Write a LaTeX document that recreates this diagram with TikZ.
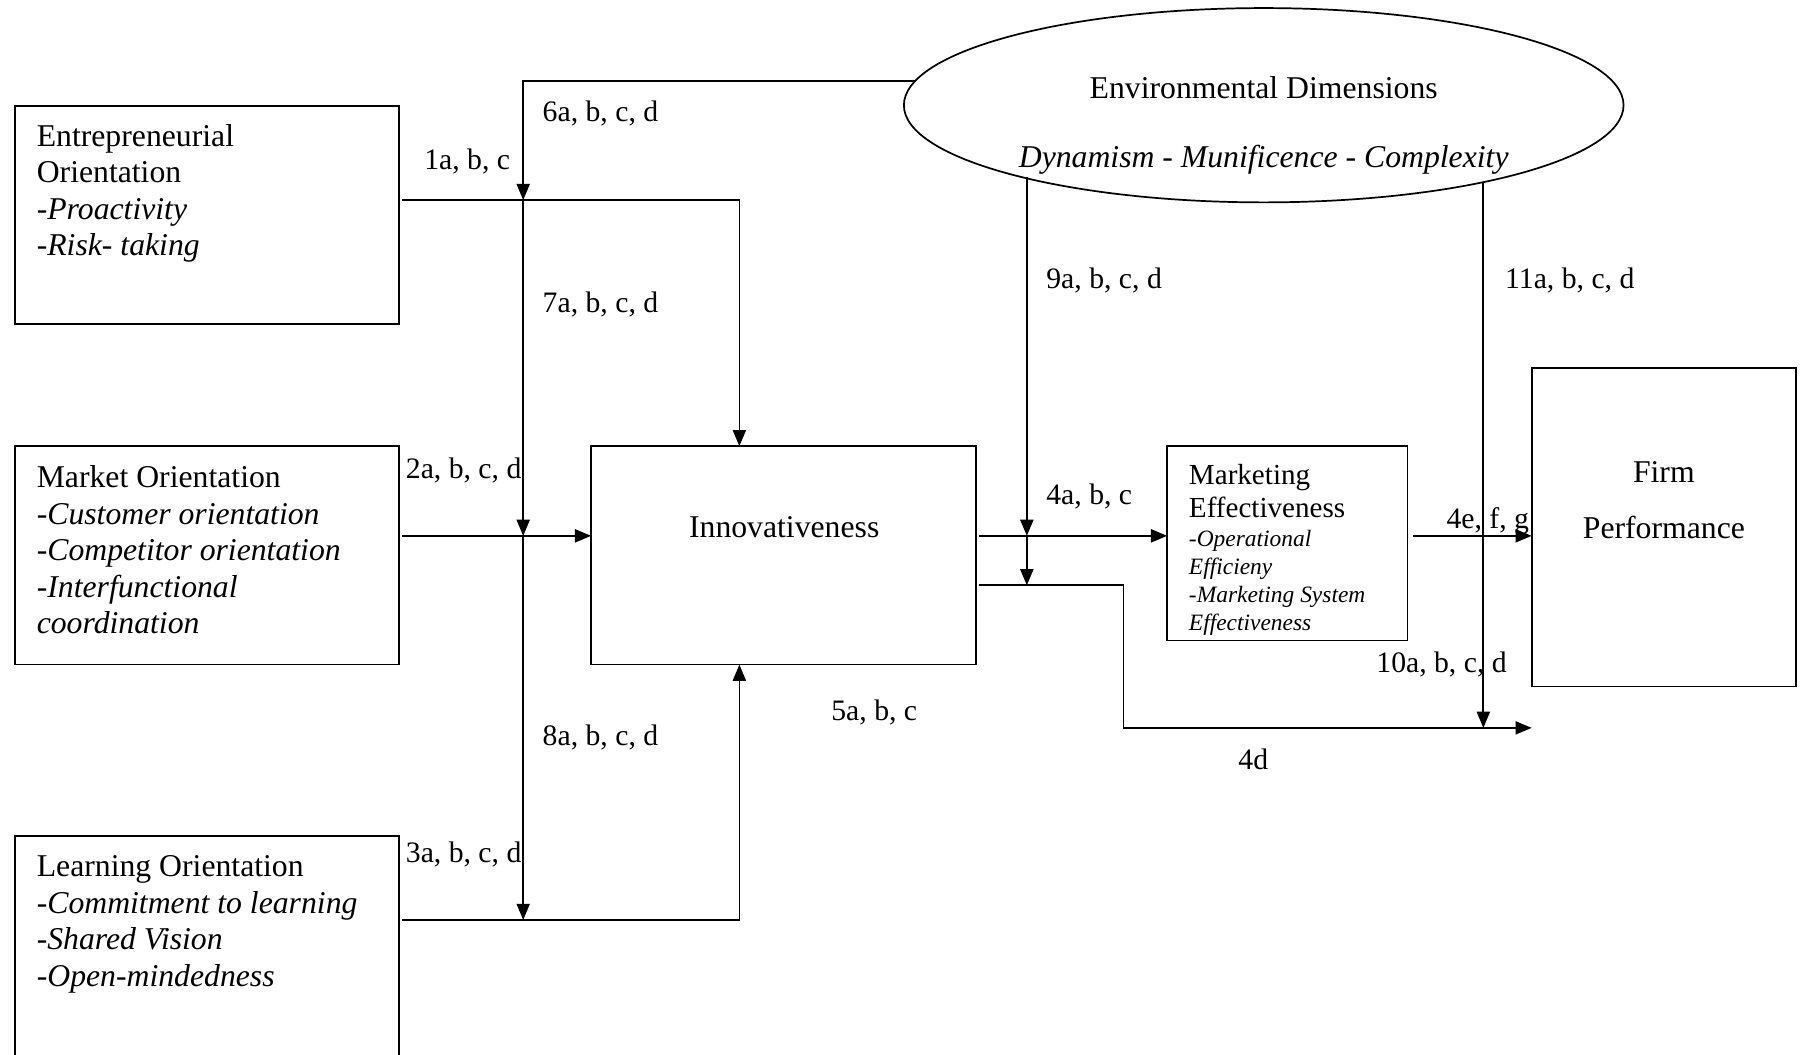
\documentclass[tikz,border=0pt]{standalone}
\usepackage{fontspec}
\setmainfont{Liberation Serif}
\usetikzlibrary{arrows.meta,shapes.geometric,calc}
\begin{document}
\begin{tikzpicture}[x=0.02cm,y=-0.02cm,
  line width=0.85pt,
  box/.style={draw,rectangle,inner sep=0pt,outer sep=0pt},
  txt/.style={inner sep=0pt,outer sep=0pt,align=left,anchor=north west,font=\fontsize{15.7}{18.1}\selectfont},
  ctxt/.style={inner sep=0pt,outer sep=0pt,anchor=base,font=\fontsize{15.7}{18.1}\selectfont},
  lab/.style={inner sep=0pt,outer sep=0pt,anchor=base west,font=\fontsize{14.7}{17}\selectfont},
  arr/.style={-{Triangle[length=8pt,width=6.5pt]}}]
\useasboundingbox (0,0) rectangle (1568,917);

% boxes
\node[box,minimum width=6.68cm,minimum height=3.8cm] (eo) at (180,187) {};
\node[box,minimum width=6.68cm,minimum height=3.8cm] (mo) at (180,483) {};
\node[box,minimum width=6.68cm,minimum height=4.0cm] (lo) at (180,827) {};
\node[box,minimum width=6.7cm,minimum height=3.8cm] (inn) at (681.5,483) {};
\node[box,minimum width=4.18cm,minimum height=3.38cm] (me) at (1119.5,472.5) {};
\node[box,minimum width=4.6cm,minimum height=5.54cm] (fp) at (1447,458.5) {};
\node[draw,ellipse,inner sep=0pt,outer sep=0pt,minimum width=12.52cm,minimum height=3.38cm] (env) at (1099,91.5) {};

% box texts
\node[txt] (eot) at (32,108) {Entrepreneurial\\Orientation\\-\textit{Proactivity}\\-\textit{Risk- taking}};
\node[txt] (mot) at (32,405) {Market Orientation\\-\textit{Customer orientation}\\-\textit{Competitor orientation}\\-\textit{Interfunctional}\\\textit{coordination}};
\node[txt] (lot) at (32,744) {Learning Orientation\\-\textit{Commitment to learning}\\-\textit{Shared Vision}\\-\textit{Open-mindedness}};
\node[ctxt] (innt) at (682,467) {Innovativeness};
\node[txt,font=\fontsize{14.4}{16.4}\selectfont] (met) at (1034,404) {Marketing\\Effectiveness};
\node[txt,font=\fontsize{11.6}{13.9}\selectfont] (mei) at (1034,461) {\textit{-Operational}\\\textit{Efficieny}\\\textit{-Marketing System}\\\textit{Effectiveness}};
\node[ctxt] (fpt1) at (1447,420) {Firm};
\node[ctxt] (fpt2) at (1447,468) {Performance};
\node[ctxt] (envt1) at (1099,86) {Environmental Dimensions};
\node[ctxt] (envt2) at (1099,146) {\textit{Dynamism - Munificence - Complexity}};

% labels
\node[lab] (l6) at (472,106) {6a, b, c, d};
\node[lab] (l1) at (369,147) {1a, b, c};
\node[lab] (l7) at (472,272) {7a, b, c, d};
\node[lab] (l2) at (353,416) {2a, b, c, d};
\node[lab] (l8) at (472,648) {8a, b, c, d};
\node[lab] (l3) at (353,750) {3a, b, c, d};
\node[lab] (l5) at (723,627) {5a, b, c};
\node[lab] (l9) at (910,251) {9a, b, c, d};
\node[lab] (l11) at (1309,251) {11a, b, c, d};
\node[lab] (l4a) at (910,439) {4a, b, c};
\node[lab] (l4e) at (1258,460) {4e, f, g};
\node[lab] (l10) at (1197,585) {10a, b, c, d};
\node[lab] (l4d) at (1077,669) {4d};

% helper coordinates
\coordinate (j1) at (455,174);
\coordinate (j2) at (455,466);
\coordinate (j3) at (455,800);
\coordinate (k1) at (643,174);
\coordinate (k3) at (643,800);
\coordinate (m1) at (893,466);
\coordinate (m2) at (893,509);
\coordinate (r1) at (977,509);
\coordinate (r2) at (977,633);
\coordinate (e9) at (893,154);
\coordinate (e11) at (1290,158);
\coordinate (t11) at (1290,633);

% connectors
\draw[arr] (env.176) -| (j1);
\draw[arr] (j1) -- (j2);
\draw[arr] (j2) -- (j3);
\draw[arr] ($(eo.east|-j1)+(3,0)$) -- (k1) -- (inn.north-|k1);
\draw[arr] ($(mo.east|-j2)+(3,0)$) -- (inn.west|-j2);
\draw[arr] ($(lo.east|-j3)+(3,0)$) -- (k3) -- (inn.south-|k3);
\draw[arr] ($(inn.east|-m1)+(2,0)$) -- (me.west|-m1);
\draw[arr] ($(inn.east|-m2)+(2,0)$) -- (r1) -- (r2) -- (fp.west|-r2);
\draw[arr] ($(me.east|-m1)+(5,0)$) -- (fp.west|-m1);
\draw[arr] (e9) -- (m1);
\draw[arr] (m1) -- (m2);
\draw[arr] (e11) -- (t11);
\end{tikzpicture}
\end{document}
